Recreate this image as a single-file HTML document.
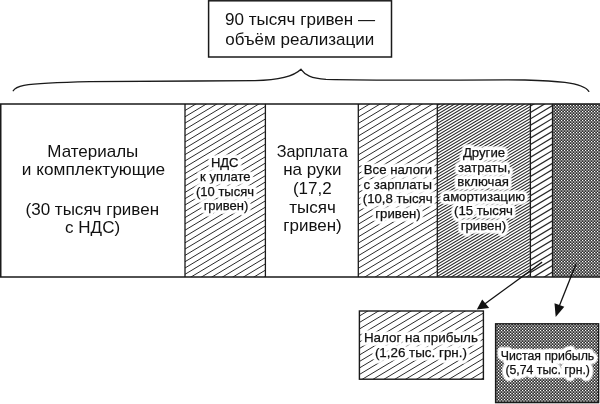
<!DOCTYPE html>
<html lang="ru"><head><meta charset="utf-8"><title>Diagram</title>
<style>
html,body{margin:0;padding:0;background:#fff;}
body{width:600px;height:404px;overflow:hidden;font-family:"Liberation Sans",sans-serif;}
svg{display:block;}
text{font-family:"Liberation Sans",sans-serif;fill:#111;text-anchor:middle;}
text.h{fill:#fff;stroke:#fff;stroke-linejoin:round;stroke-linecap:round;}
</style></head><body>
<svg width="600" height="404" viewBox="0 0 600 404" style="will-change:transform">
<defs>
<pattern id="dots" width="3" height="3" patternUnits="userSpaceOnUse">
<rect width="3" height="3" fill="#303030"/><circle cx="0.5" cy="0.5" r="0.77" fill="#fff"/><circle cx="2" cy="2" r="0.77" fill="#fff"/></pattern>
</defs>
<rect width="600" height="404" fill="#fff"/>
<!-- title box -->
<rect x="208.6" y="0.8" width="182.9" height="56.2" fill="#fff" stroke="#1a1a1a" stroke-width="1.5"/>
<text x="300" y="25.2" font-size="17" textLength="150" lengthAdjust="spacingAndGlyphs">90 тысяч гривен —</text>
<text x="299.8" y="45.1" font-size="17" textLength="149" lengthAdjust="spacingAndGlyphs">объём реализации</text>
<!-- brace -->
<path d="M13.2,90.8 C14.5,88.4 18,86.5 24,85.3 C35,83.5 55,82.4 90,81.6 C130,80.9 200,81.2 255,80.7 C272,80.3 292,78.2 301,69.3 C305,75 311,78.2 326,79.4 C400,81.2 470,79.6 525,80 C552,80.7 583,82 588.8,91.4" fill="none" stroke="#1a1a1a" stroke-width="1.3" stroke-linecap="round"/>
<!-- bar segments -->
<clipPath id="c1"><rect x="185.0" y="103.9" width="80.40" height="173.00"/></clipPath>
<path clip-path="url(#c1)" d="M183.00,105.40L267.40,54.76M183.00,111.70L267.40,61.06M183.00,118.00L267.40,67.36M183.00,124.30L267.40,73.66M183.00,130.60L267.40,79.96M183.00,136.90L267.40,86.26M183.00,143.20L267.40,92.56M183.00,149.50L267.40,98.86M183.00,155.80L267.40,105.16M183.00,162.10L267.40,111.46M183.00,168.40L267.40,117.76M183.00,174.70L267.40,124.06M183.00,181.00L267.40,130.36M183.00,187.30L267.40,136.66M183.00,193.60L267.40,142.96M183.00,199.90L267.40,149.26M183.00,206.20L267.40,155.56M183.00,212.50L267.40,161.86M183.00,218.80L267.40,168.16M183.00,225.10L267.40,174.46M183.00,231.40L267.40,180.76M183.00,237.70L267.40,187.06M183.00,244.00L267.40,193.36M183.00,250.30L267.40,199.66M183.00,256.60L267.40,205.96M183.00,262.90L267.40,212.26M183.00,269.20L267.40,218.56M183.00,275.50L267.40,224.86M183.00,281.80L267.40,231.16M183.00,288.10L267.40,237.46M183.00,294.40L267.40,243.76M183.00,300.70L267.40,250.06M183.00,307.00L267.40,256.36M183.00,313.30L267.40,262.66M183.00,319.60L267.40,268.96M183.00,325.90L267.40,275.26" stroke="#2a2a2a" stroke-width="1.0" fill="none"/>
<clipPath id="c2"><rect x="358.3" y="103.9" width="79.00" height="173.00"/></clipPath>
<path clip-path="url(#c2)" d="M356.30,105.70L439.30,55.90M356.30,112.00L439.30,62.20M356.30,118.30L439.30,68.50M356.30,124.60L439.30,74.80M356.30,130.90L439.30,81.10M356.30,137.20L439.30,87.40M356.30,143.50L439.30,93.70M356.30,149.80L439.30,100.00M356.30,156.10L439.30,106.30M356.30,162.40L439.30,112.60M356.30,168.70L439.30,118.90M356.30,175.00L439.30,125.20M356.30,181.30L439.30,131.50M356.30,187.60L439.30,137.80M356.30,193.90L439.30,144.10M356.30,200.20L439.30,150.40M356.30,206.50L439.30,156.70M356.30,212.80L439.30,163.00M356.30,219.10L439.30,169.30M356.30,225.40L439.30,175.60M356.30,231.70L439.30,181.90M356.30,238.00L439.30,188.20M356.30,244.30L439.30,194.50M356.30,250.60L439.30,200.80M356.30,256.90L439.30,207.10M356.30,263.20L439.30,213.40M356.30,269.50L439.30,219.70M356.30,275.80L439.30,226.00M356.30,282.10L439.30,232.30M356.30,288.40L439.30,238.60M356.30,294.70L439.30,244.90M356.30,301.00L439.30,251.20M356.30,307.30L439.30,257.50M356.30,313.60L439.30,263.80M356.30,319.90L439.30,270.10M356.30,326.20L439.30,276.40" stroke="#2a2a2a" stroke-width="1.0" fill="none"/>
<clipPath id="c3"><rect x="437.3" y="103.9" width="93.10" height="173.00"/></clipPath>
<path clip-path="url(#c3)" d="M435.30,103.60L532.40,45.34M435.30,106.60L532.40,48.34M435.30,109.60L532.40,51.34M435.30,112.60L532.40,54.34M435.30,115.60L532.40,57.34M435.30,118.60L532.40,60.34M435.30,121.60L532.40,63.34M435.30,124.60L532.40,66.34M435.30,127.60L532.40,69.34M435.30,130.60L532.40,72.34M435.30,133.60L532.40,75.34M435.30,136.60L532.40,78.34M435.30,139.60L532.40,81.34M435.30,142.60L532.40,84.34M435.30,145.60L532.40,87.34M435.30,148.60L532.40,90.34M435.30,151.60L532.40,93.34M435.30,154.60L532.40,96.34M435.30,157.60L532.40,99.34M435.30,160.60L532.40,102.34M435.30,163.60L532.40,105.34M435.30,166.60L532.40,108.34M435.30,169.60L532.40,111.34M435.30,172.60L532.40,114.34M435.30,175.60L532.40,117.34M435.30,178.60L532.40,120.34M435.30,181.60L532.40,123.34M435.30,184.60L532.40,126.34M435.30,187.60L532.40,129.34M435.30,190.60L532.40,132.34M435.30,193.60L532.40,135.34M435.30,196.60L532.40,138.34M435.30,199.60L532.40,141.34M435.30,202.60L532.40,144.34M435.30,205.60L532.40,147.34M435.30,208.60L532.40,150.34M435.30,211.60L532.40,153.34M435.30,214.60L532.40,156.34M435.30,217.60L532.40,159.34M435.30,220.60L532.40,162.34M435.30,223.60L532.40,165.34M435.30,226.60L532.40,168.34M435.30,229.60L532.40,171.34M435.30,232.60L532.40,174.34M435.30,235.60L532.40,177.34M435.30,238.60L532.40,180.34M435.30,241.60L532.40,183.34M435.30,244.60L532.40,186.34M435.30,247.60L532.40,189.34M435.30,250.60L532.40,192.34M435.30,253.60L532.40,195.34M435.30,256.60L532.40,198.34M435.30,259.60L532.40,201.34M435.30,262.60L532.40,204.34M435.30,265.60L532.40,207.34M435.30,268.60L532.40,210.34M435.30,271.60L532.40,213.34M435.30,274.60L532.40,216.34M435.30,277.60L532.40,219.34M435.30,280.60L532.40,222.34M435.30,283.60L532.40,225.34M435.30,286.60L532.40,228.34M435.30,289.60L532.40,231.34M435.30,292.60L532.40,234.34M435.30,295.60L532.40,237.34M435.30,298.60L532.40,240.34M435.30,301.60L532.40,243.34M435.30,304.60L532.40,246.34M435.30,307.60L532.40,249.34M435.30,310.60L532.40,252.34M435.30,313.60L532.40,255.34M435.30,316.60L532.40,258.34M435.30,319.60L532.40,261.34M435.30,322.60L532.40,264.34M435.30,325.60L532.40,267.34M435.30,328.60L532.40,270.34M435.30,331.60L532.40,273.34M435.30,334.60L532.40,276.34" stroke="#2a2a2a" stroke-width="1.1" fill="none"/>
<clipPath id="c4"><rect x="530.4" y="103.9" width="22.10" height="173.00"/></clipPath>
<path clip-path="url(#c4)" d="M528.40,107.30L554.50,91.64M528.40,113.70L554.50,98.04M528.40,120.10L554.50,104.44M528.40,126.50L554.50,110.84M528.40,132.90L554.50,117.24M528.40,139.30L554.50,123.64M528.40,145.70L554.50,130.04M528.40,152.10L554.50,136.44M528.40,158.50L554.50,142.84M528.40,164.90L554.50,149.24M528.40,171.30L554.50,155.64M528.40,177.70L554.50,162.04M528.40,184.10L554.50,168.44M528.40,190.50L554.50,174.84M528.40,196.90L554.50,181.24M528.40,203.30L554.50,187.64M528.40,209.70L554.50,194.04M528.40,216.10L554.50,200.44M528.40,222.50L554.50,206.84M528.40,228.90L554.50,213.24M528.40,235.30L554.50,219.64M528.40,241.70L554.50,226.04M528.40,248.10L554.50,232.44M528.40,254.50L554.50,238.84M528.40,260.90L554.50,245.24M528.40,267.30L554.50,251.64M528.40,273.70L554.50,258.04M528.40,280.10L554.50,264.44M528.40,286.50L554.50,270.84M528.40,292.90L554.50,277.24" stroke="#2a2a2a" stroke-width="1.25" fill="none"/>
<rect x="552.5" y="103.9" width="48.00" height="173.00" fill="url(#dots)"/>
<g stroke="#1a1a1a" stroke-width="1.3" fill="none">
<path d="M600.5,103.9 L0.75,103.9 L0.75,276.9 L600.5,276.9" stroke-width="1.5"/>
<line x1="185.0" y1="103.9" x2="185.0" y2="276.9"/>
<line x1="265.4" y1="103.9" x2="265.4" y2="276.9"/>
<line x1="358.3" y1="103.9" x2="358.3" y2="276.9"/>
<line x1="437.3" y1="103.9" x2="437.3" y2="276.9"/>
<line x1="530.4" y1="103.9" x2="530.4" y2="276.9"/>
<line x1="552.5" y1="103.9" x2="552.5" y2="276.9"/>
</g>
<text x="92.8" y="156.8" font-size="17" textLength="91" lengthAdjust="spacingAndGlyphs">Материалы</text>
<text x="93.5" y="175.1" font-size="17" textLength="143.4" lengthAdjust="spacingAndGlyphs">и комплектующие</text>
<text x="92.3" y="215.1" font-size="17" textLength="133.5" lengthAdjust="spacingAndGlyphs">(30 тысяч гривен</text>
<text x="92.6" y="233.0" font-size="17" textLength="55" lengthAdjust="spacingAndGlyphs">с НДС)</text>
<text class="h" stroke-opacity="0.55" stroke-width="7.8" x="224.7" y="166.6" font-size="13">НДС</text>
<text class="h" stroke-width="5.6" x="224.7" y="166.6" font-size="13">НДС</text>
<text x="224.7" y="166.6" font-size="13" stroke="#111" stroke-width="0.25">НДС</text>
<text class="h" stroke-opacity="0.55" stroke-width="7.8" x="225.3" y="181" font-size="13">к уплате</text>
<text class="h" stroke-width="5.6" x="225.3" y="181" font-size="13">к уплате</text>
<text x="225.3" y="181" font-size="13" stroke="#111" stroke-width="0.25">к уплате</text>
<text class="h" stroke-opacity="0.55" stroke-width="7.8" x="225" y="195.7" font-size="13">(10 тысяч</text>
<text class="h" stroke-width="5.6" x="225" y="195.7" font-size="13">(10 тысяч</text>
<text x="225" y="195.7" font-size="13" stroke="#111" stroke-width="0.25">(10 тысяч</text>
<text class="h" stroke-opacity="0.55" stroke-width="7.8" x="226" y="210.4" font-size="13">гривен)</text>
<text class="h" stroke-width="5.6" x="226" y="210.4" font-size="13">гривен)</text>
<text x="226" y="210.4" font-size="13" stroke="#111" stroke-width="0.25">гривен)</text>
<text x="312.2" y="156.9" font-size="17" textLength="71" lengthAdjust="spacingAndGlyphs">Зарплата</text>
<text x="312.3" y="175" font-size="17">на руки</text>
<text x="312.3" y="193.5" font-size="17">(17,2</text>
<text x="312.5" y="212.5" font-size="17">тысяч</text>
<text x="312.5" y="231" font-size="17">гривен)</text>
<text class="h" stroke-opacity="0.55" stroke-width="7.8" x="398" y="174.4" font-size="13.2">Все налоги</text>
<text class="h" stroke-width="5.6" x="398" y="174.4" font-size="13.2">Все налоги</text>
<text x="398" y="174.4" font-size="13.2" stroke="#111" stroke-width="0.25">Все налоги</text>
<text class="h" stroke-opacity="0.55" stroke-width="7.8" x="397.7" y="188.9" font-size="13.2">с зарплаты</text>
<text class="h" stroke-width="5.6" x="397.7" y="188.9" font-size="13.2">с зарплаты</text>
<text x="397.7" y="188.9" font-size="13.2" stroke="#111" stroke-width="0.25">с зарплаты</text>
<text class="h" stroke-opacity="0.55" stroke-width="7.8" x="397.7" y="203.4" font-size="13.2">(10,8 тысяч</text>
<text class="h" stroke-width="5.6" x="397.7" y="203.4" font-size="13.2">(10,8 тысяч</text>
<text x="397.7" y="203.4" font-size="13.2" stroke="#111" stroke-width="0.25">(10,8 тысяч</text>
<text class="h" stroke-opacity="0.55" stroke-width="7.8" x="398" y="217.7" font-size="13.2">гривен)</text>
<text class="h" stroke-width="5.6" x="398" y="217.7" font-size="13.2">гривен)</text>
<text x="398" y="217.7" font-size="13.2" stroke="#111" stroke-width="0.25">гривен)</text>
<text class="h" stroke-opacity="0.55" stroke-width="7.8" x="484.0" y="157.0" font-size="13.2">Другие</text>
<text class="h" stroke-width="5.6" x="484.0" y="157.0" font-size="13.2">Другие</text>
<text x="484.0" y="157.0" font-size="13.2" stroke="#111" stroke-width="0.25">Другие</text>
<text class="h" stroke-opacity="0.55" stroke-width="7.8" x="484.4" y="171.6" font-size="13.2">затраты,</text>
<text class="h" stroke-width="5.6" x="484.4" y="171.6" font-size="13.2">затраты,</text>
<text x="484.4" y="171.6" font-size="13.2" stroke="#111" stroke-width="0.25">затраты,</text>
<text class="h" stroke-opacity="0.55" stroke-width="7.8" x="483.1" y="186.1" font-size="13.2">включая</text>
<text class="h" stroke-width="5.6" x="483.1" y="186.1" font-size="13.2">включая</text>
<text x="483.1" y="186.1" font-size="13.2" stroke="#111" stroke-width="0.25">включая</text>
<text class="h" stroke-opacity="0.55" stroke-width="7.8" x="484.0" y="200.7" font-size="13.2">амортизацию</text>
<text class="h" stroke-width="5.6" x="484.0" y="200.7" font-size="13.2">амортизацию</text>
<text x="484.0" y="200.7" font-size="13.2" stroke="#111" stroke-width="0.25">амортизацию</text>
<text class="h" stroke-opacity="0.55" stroke-width="7.8" x="483.5" y="215.2" font-size="13.2">(15 тысяч</text>
<text class="h" stroke-width="5.6" x="483.5" y="215.2" font-size="13.2">(15 тысяч</text>
<text x="483.5" y="215.2" font-size="13.2" stroke="#111" stroke-width="0.25">(15 тысяч</text>
<text class="h" stroke-opacity="0.55" stroke-width="7.8" x="483.4" y="229.8" font-size="13.2">гривен)</text>
<text class="h" stroke-width="5.6" x="483.4" y="229.8" font-size="13.2">гривен)</text>
<text x="483.4" y="229.8" font-size="13.2" stroke="#111" stroke-width="0.25">гривен)</text>
<!-- lower boxes -->
<clipPath id="c5"><rect x="359.4" y="311.0" width="124.00" height="68.20"/></clipPath>
<path clip-path="url(#c5)" d="M357.40,310.70L485.40,233.90M357.40,317.20L485.40,240.40M357.40,323.70L485.40,246.90M357.40,330.20L485.40,253.40M357.40,336.70L485.40,259.90M357.40,343.20L485.40,266.40M357.40,349.70L485.40,272.90M357.40,356.20L485.40,279.40M357.40,362.70L485.40,285.90M357.40,369.20L485.40,292.40M357.40,375.70L485.40,298.90M357.40,382.20L485.40,305.40M357.40,388.70L485.40,311.90M357.40,395.20L485.40,318.40M357.40,401.70L485.40,324.90M357.40,408.20L485.40,331.40M357.40,414.70L485.40,337.90M357.40,421.20L485.40,344.40M357.40,427.70L485.40,350.90M357.40,434.20L485.40,357.40M357.40,440.70L485.40,363.90M357.40,447.20L485.40,370.40M357.40,453.70L485.40,376.90" stroke="#2a2a2a" stroke-width="1.0" fill="none"/>
<rect x="359.4" y="311.0" width="124.00" height="68.20" fill="none" stroke="#1a1a1a" stroke-width="1.4"/>
<rect x="495.6" y="323.8" width="103.00" height="78.80" fill="url(#dots)" stroke="#1a1a1a" stroke-width="1.4"/>
<text class="h" stroke-opacity="0.55" stroke-width="7.8" x="420.9" y="341.8" font-size="13.4">Налог на прибыль</text>
<text class="h" stroke-width="5.6" x="420.9" y="341.8" font-size="13.4">Налог на прибыль</text>
<text x="420.9" y="341.8" font-size="13.4" stroke="#111" stroke-width="0.25">Налог на прибыль</text>
<text class="h" stroke-opacity="0.55" stroke-width="7.8" x="420.9" y="357.4" font-size="13.4">(1,26 тыс. грн.)</text>
<text class="h" stroke-width="5.6" x="420.9" y="357.4" font-size="13.4">(1,26 тыс. грн.)</text>
<text x="420.9" y="357.4" font-size="13.4" stroke="#111" stroke-width="0.25">(1,26 тыс. грн.)</text>
<text class="h" stroke-opacity="0.55" stroke-width="9.2" x="547.5" y="359.9" font-size="12.3">Чистая прибыль</text>
<text class="h" stroke-width="7" x="547.5" y="359.9" font-size="12.3">Чистая прибыль</text>
<text x="547.5" y="359.9" font-size="12.3" stroke="#111" stroke-width="0.25">Чистая прибыль</text>
<text class="h" stroke-opacity="0.55" stroke-width="9.2" x="547.7" y="374.2" font-size="12.3">(5,74 тыс. грн.)</text>
<text class="h" stroke-width="7" x="547.7" y="374.2" font-size="12.3">(5,74 тыс. грн.)</text>
<text x="547.7" y="374.2" font-size="12.3" stroke="#111" stroke-width="0.25">(5,74 тыс. грн.)</text>
<!-- arrows -->
<g stroke="#111" stroke-width="1.3" fill="#111">
<line x1="542.1" y1="262.1" x2="484" y2="304.5"/>
<polygon points="476.8,309.5 482.2,299.5 489.2,307.9" stroke="none"/>
<line x1="576" y1="264" x2="558.5" y2="308"/>
<polygon points="555.7,317 554.5,303.2 564.3,306.7" stroke="none"/>
</g>
</svg>
</body></html>
